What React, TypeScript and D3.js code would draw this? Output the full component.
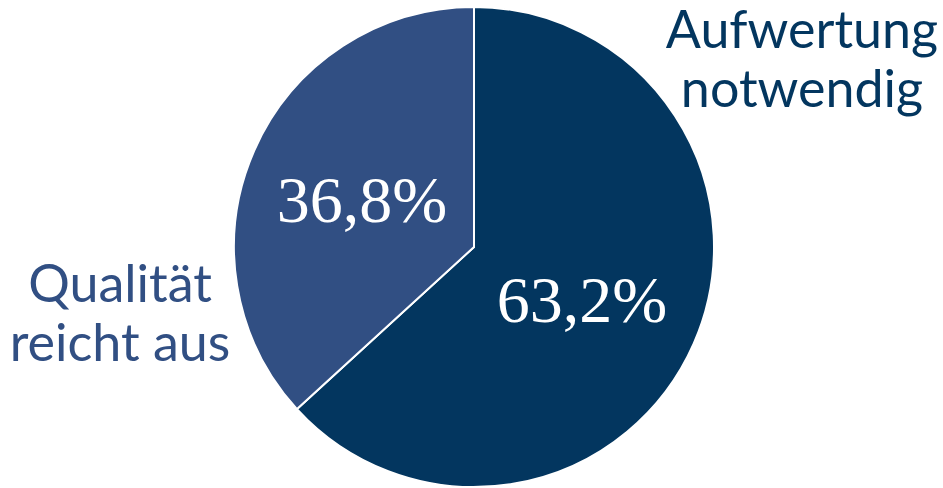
import React from "react";
import * as d3 from "d3";

const categories = ["Aufwertung notwendig", "Qualität reicht aus"];
const values = [63.2, 36.8];
const valueLabels = ["63,2%", "36,8%"];
const colors = ["#03365f", "#314f83"];

const W = 943, H = 488;
const cx = 474, cy = 247, R = 240;

export default function App() {
  const pie = d3.pie<number>().sort(null).value((d) => d);
  const arcs = pie(values);
  const arc = d3.arc<d3.PieArcDatum<number>>().innerRadius(0).outerRadius(R);
  const catLines = categories.map((c) => {
    const k = c.indexOf(" ");
    return c.startsWith("Qualität") ? ["Qualität", "reicht aus"] : [c.slice(0, k), c.slice(k + 1)];
  });
  const catPos = [
    { x: 802, y: 48 },
    { x: 120, y: 302 },
  ];
  const valPos = [
    { x: 582, y: 322 },
    { x: 362, y: 222 },
  ];
  return (
    <svg width={W} height={H} style={{ position: "absolute", left: 0, top: 0 }}>
      <rect width={W} height={H} fill="#fff" />
      <g transform={`translate(${cx},${cy})`}>
        {arcs.map((a, i) => (
          <path key={i} d={arc(a) || ""} fill={colors[i]} stroke="#fff" strokeWidth={2} />
        ))}
      </g>
      {valueLabels.map((v, i) => (
        <text key={i} x={valPos[i].x} y={valPos[i].y} textAnchor="middle" fill="#fff" fontFamily="'Liberation Serif', serif" fontSize={66}>{v}</text>
      ))}
      {catLines.map((lines, i) => (
        <text key={i} textAnchor="middle" fill={colors[i]} fontFamily="Lato" fontSize={52}>
          {lines.map((l, j) => (
            <tspan key={j} x={catPos[i].x} y={catPos[i].y + j * 59}>{l}</tspan>
          ))}
        </text>
      ))}
    </svg>
  );
}
